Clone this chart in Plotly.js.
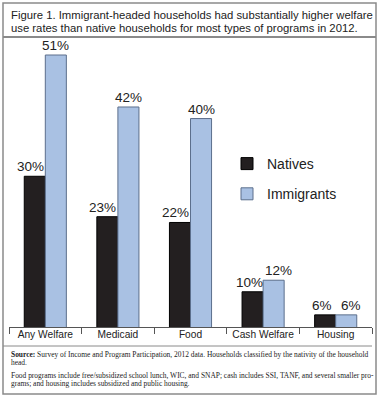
<!DOCTYPE html>
<html><head><meta charset="utf-8">
<script src="https://cdn.plot.ly/plotly-3.0.1.min.js"></script>
<style>html,body{margin:0;padding:0;background:#fff}#chart{width:382px;height:400px}</style>
</head><body><div id="chart"></div>
<script>
const categories = ['Any Welfare', 'Medicaid', 'Food', 'Cash Welfare', 'Housing'];
const natives = [30, 23, 22, 10, 6];
const immigrants = [51, 42, 40, 12, 6];
const seriesNames = ['Natives', 'Immigrants'];
const titleLines = [
  'Figure 1. Immigrant-headed households had substantially higher welfare',
  'use rates than native households for most types of programs in 2012.'
];
const sourceLines = [
  '<b>Source:</b> Survey of Income and Program Participation, 2012 data. Households classified by the nativity of the household',
  'head.',
  'Food programs include free/subsidized school lunch, WIC, and SNAP; cash includes SSI, TANF, and several smaller pro-',
  'grams; and housing includes subsidized and public housing.'
];

const W = 382, H = 400, L = 9, R = 10, T = 40, B = 73;
const pw = W - L - R, ph = H - T - B;
const px = x => (x - L) / pw;
const py = y => (H - B - y) / ph;

const bargap = 0.42;
const slotPx = pw / categories.length;
const halfBar = slotPx * (1 - bargap) / 4; // distance from category center to each bar center

const traces = [
  {type: 'bar', name: seriesNames[0], x: categories, y: natives,
   marker: {color: '#231f20', line: {color: '#000', width: 1}}},
  {type: 'bar', name: seriesNames[1], x: categories, y: immigrants,
   marker: {color: '#a9c1e3', line: {color: '#5c6f8c', width: 1}}}
];
traces[0].legendgroup = 'a';
traces[1].legendgroup = 'b';

const labFont = {family: 'Liberation Sans, Arial, sans-serif', size: 13.5, color: '#222'};
const annotations = [];
categories.forEach((c, i) => {
  const close = immigrants[i] - natives[i] < 5;
  annotations.push({xref: 'x', yref: 'y', x: c, y: natives[i], text: natives[i] + '%',
    showarrow: false, xanchor: 'center', yanchor: 'bottom', xshift: -halfBar - (close ? 3 : 4.5),
    yshift: 0, font: labFont});
  annotations.push({xref: 'x', yref: 'y', x: c, y: immigrants[i], text: immigrants[i] + '%',
    showarrow: false, xanchor: 'center', yanchor: 'bottom', xshift: halfBar + (close ? 5 : 0),
    yshift: 0, font: labFont});
});
titleLines.forEach((t, i) => annotations.push({
  xref: 'paper', yref: 'paper', x: px(8.5), y: py(15.5 + i * 12), xanchor: 'left', yanchor: 'middle',
  text: t, showarrow: false, align: 'left',
  font: {family: 'Liberation Sans, Arial, sans-serif', size: 11.3, color: '#222'}
}));
const srcY = [354.5, 362.5, 375.5, 383.5];
sourceLines.forEach((t, i) => annotations.push({
  xref: 'paper', yref: 'paper', x: px(8.5), y: py(srcY[i]), xanchor: 'left', yanchor: 'middle',
  text: t, showarrow: false, align: 'left',
  font: {family: 'Liberation Serif, Times New Roman, serif', size: 7.45, color: '#222'}
}));

const grey = '#8a8a8a';
const shapes = [
  {type: 'rect', xref: 'paper', yref: 'paper', x0: px(3), x1: px(376), y0: py(394), y1: py(3),
   line: {color: grey, width: 1.5}},
  {type: 'line', xref: 'paper', yref: 'paper', x0: px(3), x1: px(376), y0: py(37), y1: py(37),
   line: {color: grey, width: 2}},
  {type: 'line', xref: 'paper', yref: 'paper', x0: px(3), x1: px(372), y0: py(346), y1: py(346),
   line: {color: grey, width: 1}}
];

const layout = {
  width: W, height: H,
  margin: {l: L, r: R, t: T, b: B, pad: 0},
  paper_bgcolor: '#fff', plot_bgcolor: '#fff',
  barmode: 'group', bargap: bargap, bargroupgap: 0,
  showlegend: true,
  legend: {x: px(227), y: py(148), xanchor: 'left', yanchor: 'top',
    font: {family: 'Liberation Sans, Arial, sans-serif', size: 14, color: '#222'},
    bgcolor: 'rgba(0,0,0,0)', borderwidth: 0, tracegroupgap: 9, traceorder: 'grouped'},
  xaxis: {type: 'category', showline: true, linecolor: '#555', linewidth: 1,
    ticks: 'outside', tickson: 'boundaries', ticklen: 6, tickcolor: '#555', tickwidth: 1,
    ticklabelstandoff: -2,
    tickfont: {family: 'Liberation Sans, Arial, sans-serif', size: 10.2, color: '#222'},
    showgrid: false, zeroline: false, fixedrange: true},
  yaxis: {range: [3.9, 53.6], visible: false, showgrid: false, zeroline: false, fixedrange: true},
  annotations: annotations, shapes: shapes,
  font: {family: 'Liberation Sans, Arial, sans-serif'}
};
Plotly.newPlot('chart', traces, layout, {displayModeBar: false, staticPlot: true});
</script></body></html>
